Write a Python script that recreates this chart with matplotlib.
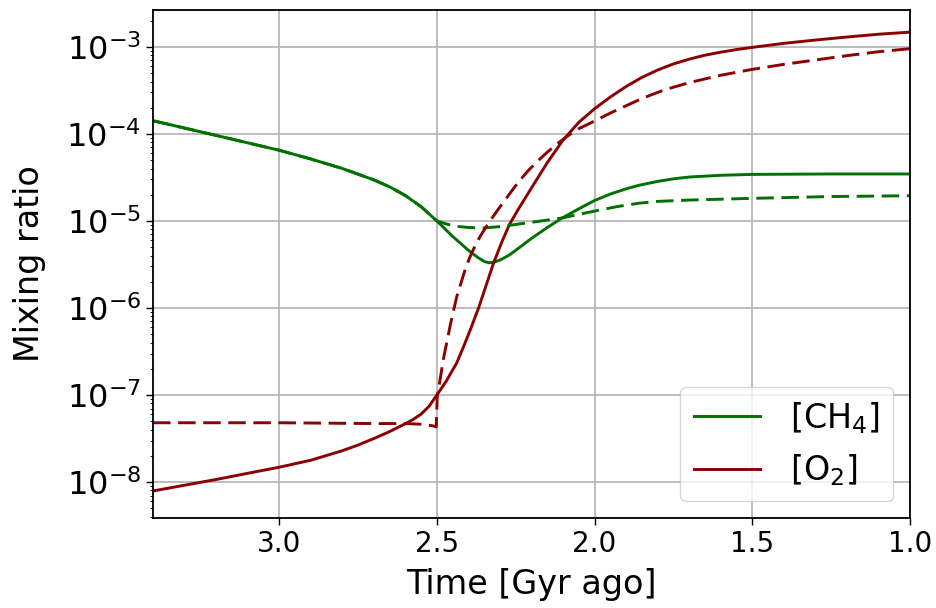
import matplotlib
matplotlib.use("Agg")
import matplotlib.pyplot as plt

# ---- data (time in Gyr ago, mixing ratios) ----
ch4_x = [3.40, 3.20, 3.00, 2.90, 2.80, 2.70, 2.65, 2.60, 2.55, 2.50, 2.45, 2.40, 2.37, 2.35,
         2.335, 2.32, 2.30, 2.27, 2.24, 2.20, 2.15, 2.105, 2.05, 2.00, 1.95, 1.90, 1.86, 1.80,
         1.75, 1.70, 1.60, 1.50, 1.25, 1.00]
ch4_y = [1.42e-4, 9.62e-5, 6.50e-5, 5.16e-5, 4.01e-5, 2.97e-5, 2.47e-5, 1.96e-5, 1.46e-5, 1.0e-5,
         6.65e-6, 4.60e-6, 3.80e-6, 3.43e-6, 3.31e-6, 3.35e-6, 3.55e-6, 4.07e-6, 4.90e-6, 6.31e-6,
         8.41e-6, 1.07e-5, 1.38e-5, 1.72e-5, 2.04e-5, 2.34e-5, 2.57e-5, 2.85e-5, 3.05e-5, 3.20e-5,
         3.35e-5, 3.43e-5, 3.47e-5, 3.47e-5]

ch4b_x = [3.40, 3.20, 3.00, 2.90, 2.80, 2.70, 2.65, 2.60, 2.55, 2.50, 2.47, 2.44, 2.40, 2.35,
          2.30, 2.24, 2.17, 2.105, 2.05, 2.00, 1.93, 1.86, 1.80, 1.70, 1.60, 1.50, 1.25, 1.00]
ch4b_y = [1.42e-4, 9.62e-5, 6.50e-5, 5.16e-5, 4.01e-5, 2.97e-5, 2.47e-5, 1.96e-5, 1.46e-5, 1.0e-5,
          9.23e-6, 8.71e-6, 8.41e-6, 8.32e-6, 8.61e-6, 9.23e-6, 1.0e-5, 1.08e-5, 1.19e-5, 1.30e-5,
          1.46e-5, 1.60e-5, 1.68e-5, 1.74e-5, 1.78e-5, 1.82e-5, 1.91e-5, 1.95e-5]

o2_x = [3.40, 3.20, 3.10, 3.00, 2.90, 2.80, 2.75, 2.70, 2.65, 2.60, 2.575, 2.55, 2.525, 2.50,
        2.47, 2.437, 2.415, 2.393, 2.367, 2.342, 2.320, 2.294, 2.27, 2.241, 2.20, 2.15, 2.10,
        2.05, 2.00, 1.95, 1.90, 1.85, 1.80, 1.75, 1.70, 1.65, 1.60, 1.55, 1.50, 1.40, 1.30,
        1.20, 1.10, 1.00]
o2_y = [7.9e-9, 1.07e-8, 1.26e-8, 1.48e-8, 1.78e-8, 2.29e-8, 2.66e-8, 3.16e-8, 3.80e-8, 4.68e-8,
        5.25e-8, 6.03e-8, 7.41e-8, 1.0e-7, 1.45e-7, 2.34e-7, 3.63e-7, 5.75e-7, 1.02e-6, 1.91e-6,
        3.31e-6, 5.75e-6, 9.12e-6, 1.38e-5, 2.40e-5, 4.68e-5, 8.51e-5, 1.36e-4, 1.95e-4, 2.66e-4,
        3.51e-4, 4.47e-4, 5.43e-4, 6.38e-4, 7.24e-4, 8.04e-4, 8.71e-4, 9.33e-4, 9.89e-4, 1.10e-3,
        1.20e-3, 1.30e-3, 1.40e-3, 1.48e-3]

o2b_x = [3.40, 3.00, 2.70, 2.60, 2.54, 2.51, 2.502, 2.499, 2.478, 2.456, 2.437, 2.408, 2.39,
         2.374, 2.36, 2.345, 2.32, 2.30, 2.27, 2.241, 2.21, 2.18, 2.15, 2.114, 2.08, 2.05, 2.00,
         1.95, 1.90, 1.861, 1.82, 1.775, 1.70, 1.60, 1.503, 1.40, 1.30, 1.20, 1.10, 1.00]
o2b_y = [4.8e-8, 4.8e-8, 4.7e-8, 4.7e-8, 4.6e-8, 4.4e-8, 4.3e-8, 9.55e-8, 2.75e-7, 6.76e-7,
         1.35e-6, 2.95e-6, 4.27e-6, 5.62e-6, 6.92e-6, 8.41e-6, 1.15e-5, 1.45e-5, 2.04e-5, 2.82e-5,
         3.80e-5, 4.90e-5, 6.17e-5, 7.94e-5, 9.77e-5, 1.15e-4, 1.41e-4, 1.74e-4, 2.11e-4, 2.45e-4,
         2.82e-4, 3.24e-4, 3.89e-4, 4.73e-4, 5.50e-4, 6.31e-4, 7.08e-4, 7.94e-4, 8.81e-4, 9.55e-4]

labels = ["[CH$_4$]", "[O$_2$]"]
xticks = [3.0, 2.5, 2.0, 1.5, 1.0]

green = "#007000"
red = "#8b0000"

fig = plt.figure(figsize=(9.36, 6.08), dpi=100)
ax = fig.add_axes([0.1635, 0.148, 0.8087, 0.8356])

lw = 2.1
dash = (0, (6.0, 2.6))
ax.plot(ch4_x, ch4_y, color=green, lw=lw, label=labels[0])
ax.plot(o2_x, o2_y, color=red, lw=lw, label=labels[1])
ax.plot(ch4b_x, ch4b_y, color=green, lw=lw, linestyle=dash)
ax.plot(o2b_x, o2b_y, color=red, lw=lw, linestyle=dash)

ax.set_yscale("log")
ax.set_xlim(3.40, 1.0)
ax.set_ylim(3.86e-9, 2.66e-3)
ax.set_xticks(xticks)
ax.set_xticklabels([f"{t:.1f}" for t in xticks])
ax.grid(True, which="major", color="#b8b8b8", lw=1.3)
ax.tick_params(axis="x", labelsize=20)
ax.tick_params(axis="y", labelsize=23)
ax.tick_params(which="major", width=1.0, length=5)
for s in ax.spines.values():
    s.set_linewidth(1.3)

ax.set_xlabel("Time [Gyr ago]", fontsize=24, labelpad=7)
ax.set_ylabel("Mixing ratio", fontsize=24)
ax.yaxis.set_label_coords(-0.141, 0.5)

ax.legend(loc="lower right", fontsize=24, handlelength=2.0, handletextpad=0.9,
          labelspacing=0.5, borderaxespad=0.5)

fig.savefig("out.png", dpi=100)
